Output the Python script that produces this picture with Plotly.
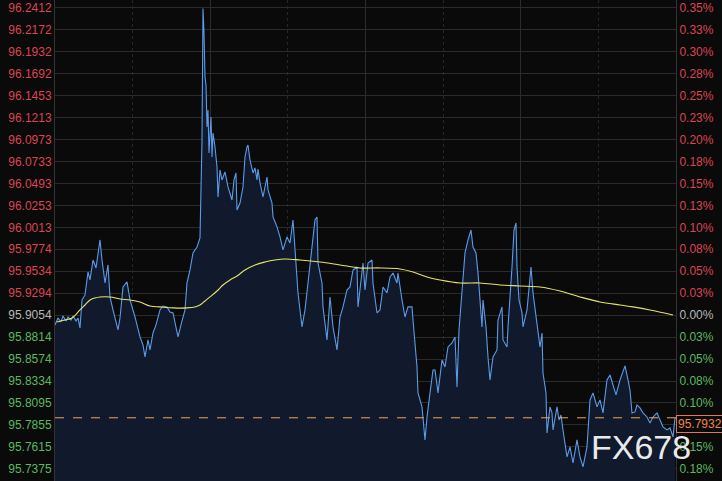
import plotly.graph_objects as go

# ---- data: price (blue) ----
t = [0, 3, 6, 8, 11, 13, 16, 18, 21, 23, 25, 27, 30, 33, 35, 38, 41, 45, 47, 50,
     53, 55, 58, 61, 63, 65, 68, 72, 75, 80, 85, 88, 90, 93, 95, 98, 101, 105, 108, 112,
     115, 118, 123, 126, 130, 132, 135, 138, 142, 145, 147, 148, 149, 150, 151, 152, 153, 154, 156, 157,
     158, 160, 162, 163, 165, 167, 170, 173, 177, 179, 181, 182, 185, 188, 190, 192, 193, 195, 198, 200,
     202, 203, 205, 208, 212, 213, 217, 218, 222, 225, 228, 232, 235, 238, 240, 243, 247, 250, 253, 257,
     260, 262, 263, 267, 268, 272, 275, 278, 282, 285, 288, 292, 295, 298, 302, 303, 307, 308, 310, 313,
     317, 318, 322, 325, 328, 332, 335, 338, 342, 343, 347, 350, 353, 357, 358, 362, 363, 367, 370, 372,
     375, 378, 380, 382, 383, 387, 390, 393, 397, 400, 402, 404, 407, 410, 413, 416, 418, 421, 423, 425,
     427, 428, 431, 433, 435, 438, 442, 443, 447, 448, 452, 453, 455, 457, 459, 461, 462, 464, 467, 468,
     472, 475, 476, 478, 481, 483, 485, 487, 488, 491, 492, 495, 497, 498, 502, 504, 506, 508, 512, 515,
     518, 522, 525, 528, 532, 535, 538, 542, 545, 548, 552, 555, 558, 561, 565, 568, 570, 573, 575, 577,
     580, 582, 585, 588, 592, 595, 598, 602, 605, 608, 612, 615, 618, 620]

price = [95.8947, 95.9023, 95.8980, 95.9045, 95.8991, 95.9034, 95.9001, 95.9045, 95.8991, 95.9023,
         95.8914, 95.9220, 95.9275, 95.9526, 95.9439, 95.9657, 95.9570, 95.9876, 95.9657, 95.9406,
         95.9603, 95.9253, 95.9111, 95.8980, 95.8892, 95.9023, 95.9362, 95.9417, 95.9220, 95.9034,
         95.8816, 95.8728, 95.8597, 95.8783, 95.8674, 95.8859, 95.8947, 95.9111, 95.9154, 95.9144,
         95.9089, 95.9078, 95.8816, 95.8947, 95.9111, 95.9406, 95.9548, 95.9734, 95.9799, 95.9898,
         96.0969, 96.2405, 96.2138, 96.1657, 96.1570, 96.1111, 96.1297, 96.0827, 96.1220, 96.0783,
         96.1045, 96.0892, 96.0674, 96.0346, 96.0641, 96.0532, 96.0619, 96.0455, 96.0313, 96.0532,
         96.0608, 96.0204, 96.0280, 96.0455, 96.0783, 96.0892, 96.0914, 96.0750, 96.0608, 96.0663,
         96.0532, 96.0652, 96.0499, 96.0346, 96.0564, 96.0422, 96.0280, 96.0127, 96.0018, 95.9909,
         95.9767, 95.9909, 95.9843, 96.0094, 95.9767, 95.9297, 95.8925, 95.9111, 95.9406, 95.9843,
         96.0094, 96.0127, 95.9624, 95.9406, 95.9144, 95.8783, 95.9253, 95.8925, 95.8674, 95.9034,
         95.9144, 95.9329, 95.9362, 95.9548, 95.9581, 95.9144, 95.9515, 95.9624, 95.9329, 95.9624,
         95.9657, 95.9406, 95.9078, 95.9111, 95.9362, 95.9297, 95.9471, 95.9515, 95.9406, 95.9515,
         95.9220, 95.9034, 95.9144, 95.9144, 95.9001, 95.8488, 95.8204, 95.8051, 95.7690, 95.7941,
         95.8204, 95.8455, 95.8455, 95.8313, 95.8204, 95.8564, 95.8488, 95.8706, 95.8750, 95.8816,
         95.8269, 95.8892, 95.9297, 95.9734, 95.9876, 95.9985, 95.9799, 95.9734, 95.9515, 95.9220,
         95.8925, 95.9220, 95.8925, 95.8597, 95.8346, 95.8597, 95.8674, 95.9001, 95.9144, 95.8783,
         95.8706, 95.8925, 95.9220, 95.9581, 95.9985, 96.0062, 95.9581, 95.9220, 95.9078, 95.8925,
         95.9111, 95.9515, 95.9581, 95.9297, 95.9034, 95.8859, 95.8706, 95.8859, 95.8422, 95.8204,
         95.7766, 95.8051, 95.7985, 95.7799, 95.8051, 95.7908, 95.7963, 95.7799, 95.7504, 95.7613,
         95.7438, 95.7690, 95.7504, 95.7395, 95.7613, 95.8127, 95.8204, 95.8051, 95.8127, 95.7985,
         95.8346, 95.8400, 95.8291, 95.8182, 95.8346, 95.8433, 95.8499, 95.8346, 95.8236, 95.7985,
         95.7996, 95.8072, 95.8040, 95.7985, 95.7941, 95.7876, 95.7941, 95.7985, 95.7908, 95.7832,
         95.7799, 95.7821, 95.7723, 95.7932]

# ---- data: moving average (yellow) ----
ma_t = [2, 10, 17, 25, 30, 35, 40, 45, 55, 65, 75, 85, 95, 105, 118, 132, 140, 145, 150, 155,
        162, 168, 175, 182, 190, 200, 210, 220, 230, 245, 265, 285, 305, 325, 345, 358, 372, 385, 405, 425,
        445, 465, 485, 505, 525, 545, 565, 578, 595, 618]
ma = [95.8980, 95.9001, 95.9023, 95.9111, 95.9165, 95.9220, 95.9242, 95.9253, 95.9253, 95.9231,
      95.9220, 95.9198, 95.9154, 95.9144, 95.9133, 95.9133, 95.9144, 95.9165, 95.9209, 95.9253,
      95.9318, 95.9384, 95.9439, 95.9482, 95.9548, 95.9603, 95.9635, 95.9657, 95.9668, 95.9657,
      95.9635, 95.9603, 95.9570, 95.9570, 95.9559, 95.9526, 95.9471, 95.9439, 95.9406, 95.9406,
      95.9384, 95.9373, 95.9362, 95.9318, 95.9253, 95.9198, 95.9165, 95.9144, 95.9111, 95.9056]

# ---- axis ticks ----
base = 95.9054
y_ticks = [96.2412, 96.2172, 96.1932, 96.1692, 96.1453, 96.1213, 96.0973, 96.0733, 96.0493, 96.0253,
           96.0013, 95.9774, 95.9534, 95.9294, 95.9054, 95.8814, 95.8574, 95.8334, 95.8095, 95.7855,
           95.7615, 95.7375]
pct_labels = ["0.35%", "0.33%", "0.30%", "0.28%", "0.25%", "0.23%", "0.20%", "0.18%", "0.15%", "0.13%",
              "0.10%", "0.08%", "0.05%", "0.03%", "0.00%", "0.03%", "0.05%", "0.08%", "0.10%", "0.13%",
              "0.15%", "0.18%"]
last_price = 95.7932

RED = "#dc4452"
GREEN = "#5cb860"
NEUTRAL = "#b8b8b8"


def colored(txt, v):
    c = RED if v > base + 1e-9 else (GREEN if v < base - 1e-9 else NEUTRAL)
    return f'<span style="color:{c}">{txt}</span>'


left_text = [colored(f"{v:.4f}", v) for v in y_ticks]
right_text = [colored(p, v) for p, v in zip(pct_labels, y_ticks)]

y_range = [95.7241, 96.2499]
x_range = [0, 621]

fig = go.Figure()
fig.add_trace(go.Scatter(
    x=t, y=price, mode="lines", line=dict(color="#5b9be8", width=1.1),
    fill="tozeroy", fillcolor="#111a2c", hoverinfo="skip", showlegend=False))
fig.add_trace(go.Scatter(
    x=ma_t, y=ma, mode="lines", line=dict(color="#e4e46a", width=1.1, shape="spline"),
    hoverinfo="skip", showlegend=False))
fig.add_trace(go.Scatter(
    x=[t[0]], y=[price[0]], yaxis="y2", mode="markers", marker=dict(opacity=0),
    hoverinfo="skip", showlegend=False))

fig.add_shape(type="line", xref="x", yref="y", x0=x_range[0], x1=x_range[1],
              y0=last_price, y1=last_price, line=dict(color="#f0a464", width=1, dash="dash"))

fig.add_annotation(x=1, xref="paper", xanchor="left", y=last_price, yref="y", yanchor="middle",
                   yshift=-6, text="95.7932", showarrow=False,
                   font=dict(color="#ee8650", size=12, family="Liberation Sans, Arial"),
                   bgcolor="#0a0a0a", bordercolor="#e07a4a", borderwidth=1, borderpad=1)

fig.add_annotation(x=(641 - 55) / 621, y=1 - 447 / 481, xref="paper", yref="paper",
                   xanchor="center", yanchor="middle",
                   text="FX678", showarrow=False,
                   font=dict(color="rgba(255,255,255,0.93)", size=34, family="Liberation Sans, Arial"))

fig.update_layout(
    width=722, height=481,
    margin=dict(l=55, r=46, t=0, b=0, autoexpand=False),
    paper_bgcolor="#0a0a0a", plot_bgcolor="#0a0a0a",
    font=dict(family="Liberation Sans, Arial", size=12),
    xaxis=dict(range=x_range, showticklabels=False, ticks="", zeroline=False, automargin=False,
               tickvals=[155.25, 310.5, 465.75], showgrid=True, gridcolor="#2c2c2c", gridwidth=1,
               minor=dict(tickvals=[77.625, 232.875, 388.125, 543.375], showgrid=True,
                          gridcolor="#262626", griddash="dot"),
               showline=False),
    yaxis=dict(range=y_range, tickvals=y_ticks, ticktext=left_text, showgrid=True, automargin=False,
               gridcolor="#2b2b2b", gridwidth=1, zeroline=False, ticks="",
               showline=True, linecolor="#333333", linewidth=1,
               tickfont=dict(size=12)),
    yaxis2=dict(range=y_range, overlaying="y", side="right", tickvals=y_ticks, automargin=False,
                ticktext=right_text, showgrid=False, zeroline=False, ticks="",
                showline=True, linecolor="#333333", linewidth=1,
                tickfont=dict(size=12)),
    showlegend=False,
)

fig.write_html(
    "out.html",
    config={"displayModeBar": False},
    post_script=("document.body.style.margin='0';document.body.style.padding='0';"
                 "document.body.style.background='#0a0a0a';"
                 "document.documentElement.style.overflow='hidden';"),
)
